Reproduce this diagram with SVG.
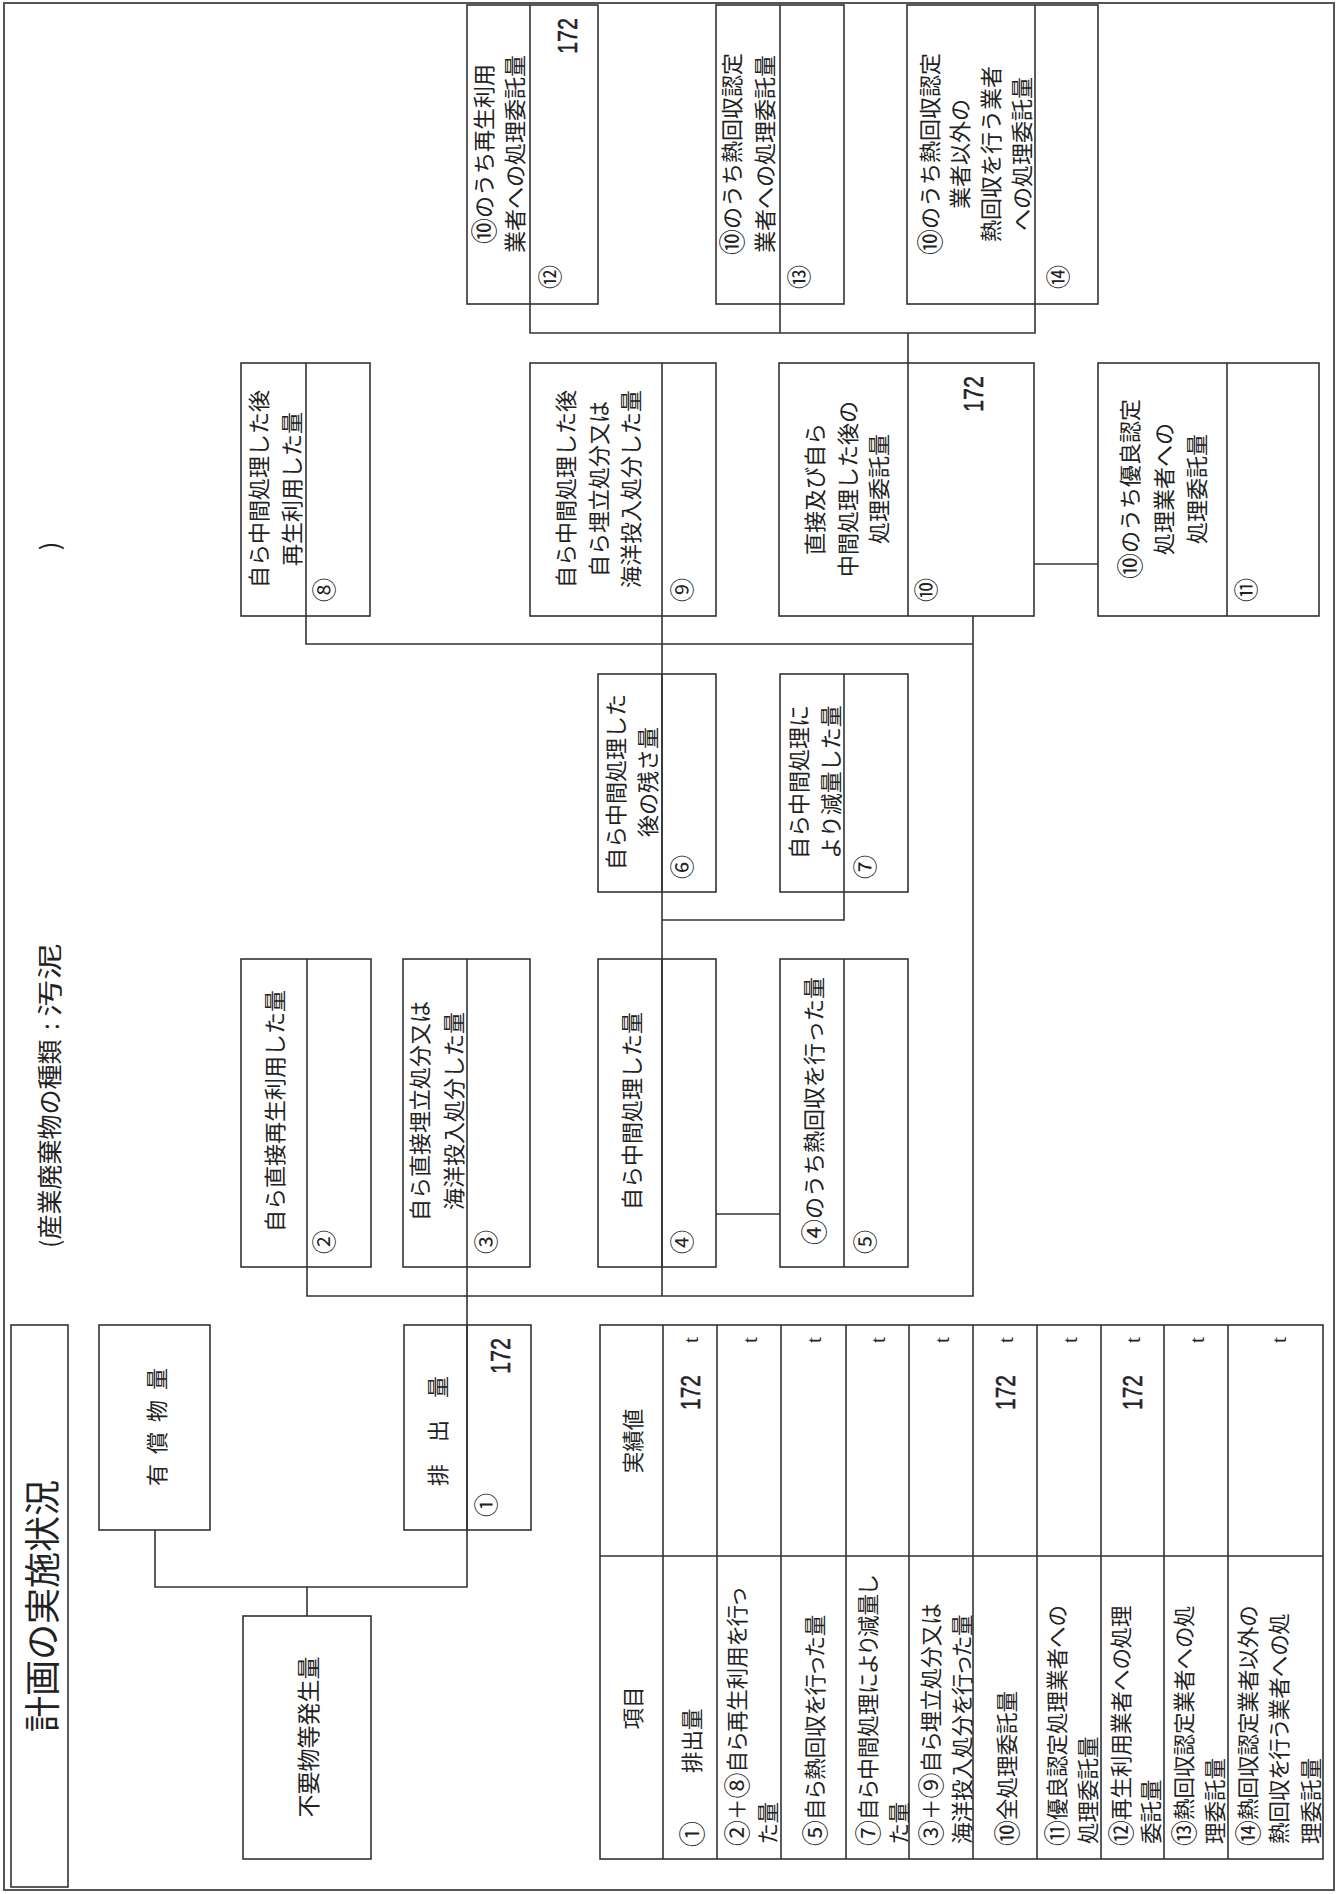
<svg xmlns="http://www.w3.org/2000/svg" width="1343" height="1894" viewBox="0 0 1343 1894">
<style>
.bx{fill:none;stroke:#333;stroke-width:1.6}
.cl{fill:none;stroke:#333;stroke-width:1.6}
.ob{fill:none;stroke:#555;stroke-width:2}
.jp{font-family:"Noto Sans CJK JP","Noto Sans CJK SC",sans-serif;fill:#222}
.lb{font-size:22px;text-anchor:middle;dominant-baseline:central}
.cn{font-size:24px;text-anchor:middle;dominant-baseline:central}
.tb{font-size:21.5px;dominant-baseline:central;font-feature-settings:"palt"}
.hd{font-size:21.5px;text-anchor:middle;dominant-baseline:central}
.c{font-size:26px}
.num{font-family:"Liberation Sans",Arial,sans-serif;font-size:28px;fill:#222;stroke:#222;stroke-width:0.5;dominant-baseline:central}
.tt{font-family:"Liberation Serif",serif;font-size:22px;fill:#222;text-anchor:middle;dominant-baseline:central}
</style>
<rect width="1343" height="1894" fill="#fff"/>
<g transform="translate(0,1894) rotate(-90)">
<rect class="ob" x="4" y="4" width="1887" height="1330"/>

<g id="title">
<rect class="bx" x="7" y="11" width="562" height="57"/>
<text class="jp" x="288" y="40" font-size="36" text-anchor="middle" dominant-baseline="central">計画の実施状況</text>
</g>
<g id="subtitle">
<text class="jp" x="646" y="48" font-size="25" dominant-baseline="central">(産業廃棄物の種類</text>
<text class="jp" x="864" y="48" font-size="25" dominant-baseline="central">:</text>
<text class="jp" x="877" y="48" font-size="25" dominant-baseline="central" textLength="74" lengthAdjust="spacingAndGlyphs">汚泥</text>
<text class="jp" x="1348" y="48" font-size="25" text-anchor="middle" dominant-baseline="central">)</text>
</g>

<g id="connectors">
<path class="cl" d="M364 155 H307 V467 H627"/>
<path class="cl" d="M278 307 H307"/>
<path class="cl" d="M627 307 H598 V973 H1278"/>
<path class="cl" d="M598 662 H1278"/>
<path class="cl" d="M680 716 V780"/>
<path class="cl" d="M974 662 V844 H1002"/>
<path class="cl" d="M1278 306 H1250 V973"/>
<path class="cl" d="M1330 1034 V1098"/>
<path class="cl" d="M1590 530 H1561 V1035 H1590"/>
<path class="cl" d="M1590 780 H1561"/>
<path class="cl" d="M1531 908 H1561"/>
</g>

<g id="n-yushobutsu">
<rect class="bx" x="364" y="99" width="205" height="111"/>
<text class="jp" x="419 451 483 515" y="155" font-size="22" text-anchor="middle" dominant-baseline="central">有償物量</text>
</g>

<g id="n1-haishutsu">
<rect class="bx" x="364" y="404" width="205" height="127"/>
<line class="bx" x1="364" y1="467" x2="569" y2="467"/>
<text class="jp" x="419 463 507" y="436" font-size="22" text-anchor="middle" dominant-baseline="central">排出量</text>
<text class="num" x="520" y="500" textLength="36" lengthAdjust="spacingAndGlyphs">172</text>
<text class="jp cn" x="389" y="484">①</text>
</g>

<g id="n-fuyobutsu">
<rect class="bx" x="35" y="243" width="243" height="128"/>
<text class="jp" x="157" y="307" font-size="23" text-anchor="middle" dominant-baseline="central">不要物等発生量</text>
</g>

<g id="n2">
<rect class="bx" x="627" y="241" width="308" height="130"/>
<line class="bx" x1="627" y1="307" x2="935" y2="307"/>
<text class="jp lb" x="783" y="273">自ら直接再生利用した量</text>
<text class="jp cn" x="652" y="322">②</text>
</g>

<g id="n3">
<rect class="bx" x="627" y="403" width="308" height="127"/>
<line class="bx" x1="627" y1="467" x2="935" y2="467"/>
<text class="jp lb" x="783" y="418">自ら直接埋立処分又は</text>
<text class="jp lb" x="783" y="452">海洋投入処分した量</text>
<text class="jp cn" x="652" y="484">③</text>
</g>

<g id="n4">
<rect class="bx" x="627" y="598" width="308" height="118"/>
<line class="bx" x1="627" y1="662" x2="935" y2="662"/>
<text class="jp lb" x="783" y="630">自ら中間処理した量</text>
<text class="jp cn" x="652" y="680">④</text>
</g>

<g id="n5">
<rect class="bx" x="627" y="780" width="308" height="128"/>
<line class="bx" x1="627" y1="844" x2="935" y2="844"/>
<text class="jp lb" x="783" y="812"><tspan class="c">④</tspan>のうち熱回収を行った量</text>
<text class="jp cn" x="652" y="863">⑤</text>
</g>

<g id="n6">
<rect class="bx" x="1002" y="598" width="218" height="118"/>
<line class="bx" x1="1002" y1="662" x2="1220" y2="662"/>
<text class="jp lb" x="1112" y="614">自ら中間処理した</text>
<text class="jp lb" x="1112" y="646">後の残さ量</text>
<text class="jp cn" x="1027" y="680">⑥</text>
</g>

<g id="n7">
<rect class="bx" x="1002" y="780" width="218" height="128"/>
<line class="bx" x1="1002" y1="844" x2="1220" y2="844"/>
<text class="jp lb" x="1112" y="797">自ら中間処理に</text>
<text class="jp lb" x="1112" y="829">より減量した量</text>
<text class="jp cn" x="1027" y="863">⑦</text>
</g>

<g id="n8">
<rect class="bx" x="1278" y="241" width="253" height="129"/>
<line class="bx" x1="1278" y1="306" x2="1531" y2="306"/>
<text class="jp lb" x="1405" y="257">自ら中間処理した後</text>
<text class="jp lb" x="1405" y="290">再生利用した量</text>
<text class="jp cn" x="1304" y="322">⑧</text>
</g>

<g id="n9">
<rect class="bx" x="1278" y="530" width="253" height="186"/>
<line class="bx" x1="1278" y1="662" x2="1531" y2="662"/>
<text class="jp lb" x="1405" y="564">自ら中間処理した後</text>
<text class="jp lb" x="1405" y="597">自ら埋立処分又は</text>
<text class="jp lb" x="1405" y="629">海洋投入処分した量</text>
<text class="jp cn" x="1304" y="680">⑨</text>
</g>

<g id="n10">
<rect class="bx" x="1278" y="779" width="253" height="255"/>
<line class="bx" x1="1278" y1="908" x2="1531" y2="908"/>
<text class="jp lb" x="1405" y="813">直接及び自ら</text>
<text class="jp lb" x="1405" y="846">中間処理した後の</text>
<text class="jp lb" x="1405" y="877">処理委託量</text>
<text class="num" x="1482" y="973" textLength="36" lengthAdjust="spacingAndGlyphs">172</text>
<text class="jp cn" x="1304" y="924">⑩</text>
</g>

<g id="n11">
<rect class="bx" x="1278" y="1098" width="253" height="221"/>
<line class="bx" x1="1278" y1="1227" x2="1531" y2="1227"/>
<text class="jp lb" x="1405" y="1128"><tspan class="c">⑩</tspan>のうち優良認定</text>
<text class="jp lb" x="1405" y="1162">処理業者への</text>
<text class="jp lb" x="1405" y="1195">処理委託量</text>
<text class="jp cn" x="1304" y="1244">⑪</text>
</g>

<g id="n12">
<rect class="bx" x="1590" y="467" width="299" height="131"/>
<line class="bx" x1="1590" y1="530" x2="1889" y2="530"/>
<text class="jp lb" x="1740" y="482"><tspan class="c">⑩</tspan>のうち再生利用</text>
<text class="jp lb" x="1740" y="513">業者への処理委託量</text>
<text class="num" x="1840" y="567" textLength="36" lengthAdjust="spacingAndGlyphs">172</text>
<text class="jp cn" x="1617" y="548">⑫</text>
</g>

<g id="n13">
<rect class="bx" x="1590" y="716" width="299" height="128"/>
<line class="bx" x1="1590" y1="780" x2="1889" y2="780"/>
<text class="jp lb" x="1740" y="730"><tspan class="c">⑩</tspan>のうち熱回収認定</text>
<text class="jp lb" x="1740" y="763">業者への処理委託量</text>
<text class="jp cn" x="1617" y="797">⑬</text>
</g>

<g id="n14">
<rect class="bx" x="1590" y="907" width="299" height="191"/>
<line class="bx" x1="1590" y1="1035" x2="1889" y2="1035"/>
<text class="jp lb" x="1740" y="928"><tspan class="c">⑩</tspan>のうち熱回収認定</text>
<text class="jp lb" x="1740" y="958">業者以外の</text>
<text class="jp lb" x="1740" y="989">熱回収を行う業者</text>
<text class="jp lb" x="1740" y="1020">への処理委託量</text>
<text class="jp cn" x="1617" y="1056">⑭</text>
</g>

<g id="table">
<rect class="bx" x="35" y="600" width="534" height="723"/>
<path class="bx" d="M338 600 V1323 M35 663 H569 M35 717 H569 M35 781 H569 M35 846 H569 M35 909 H569 M35 973 H569 M35 1037 H569 M35 1101 H569 M35 1164 H569 M35 1228 H569"/>
<text class="jp hd" x="186" y="631">項目</text>
<text class="jp hd" x="453" y="631">実績値</text>

<text class="jp tb c" x="47" y="690">①</text>
<text class="jp tb" x="121" y="690">排出量</text>
<text class="num" x="484" y="690" textLength="35" lengthAdjust="spacingAndGlyphs">172</text>
<text class="tt" x="554" y="690">t</text>

<text class="jp tb" x="48" y="735"><tspan class="c">②</tspan>＋<tspan class="c">⑧</tspan>自ら再生利用を行っ</text>
<text class="jp tb" x="50" y="766">た量</text>
<text class="tt" x="554" y="749">t</text>

<text class="jp tb" x="48" y="813"><tspan class="c">⑤</tspan>自ら熱回収を行った量</text>
<text class="tt" x="554" y="813">t</text>

<text class="jp tb" x="48" y="866"><tspan class="c">⑦</tspan>自ら中間処理により減量し</text>
<text class="jp tb" x="50" y="897">た量</text>
<text class="tt" x="554" y="877">t</text>

<text class="jp tb" x="48" y="929"><tspan class="c">③</tspan>＋<tspan class="c">⑨</tspan>自ら埋立処分又は</text>
<text class="jp tb" x="50" y="960">海洋投入処分を行った量</text>
<text class="tt" x="554" y="941">t</text>

<text class="jp tb" x="48" y="1005"><tspan class="c">⑩</tspan>全処理委託量</text>
<text class="num" x="484" y="1005" textLength="35" lengthAdjust="spacingAndGlyphs">172</text>
<text class="tt" x="554" y="1005">t</text>

<text class="jp tb" x="48" y="1055"><tspan class="c">⑪</tspan>優良認定処理業者への</text>
<text class="jp tb" x="50" y="1086">処理委託量</text>
<text class="tt" x="554" y="1069">t</text>

<text class="jp tb" x="48" y="1119"><tspan class="c">⑫</tspan>再生利用業者への処理</text>
<text class="jp tb" x="50" y="1149">委託量</text>
<text class="num" x="484" y="1132" textLength="35" lengthAdjust="spacingAndGlyphs">172</text>
<text class="tt" x="554" y="1132">t</text>

<text class="jp tb" x="48" y="1182"><tspan class="c">⑬</tspan>熱回収認定業者への処</text>
<text class="jp tb" x="50" y="1213">理委託量</text>
<text class="tt" x="554" y="1196">t</text>

<text class="jp tb" x="48" y="1246"><tspan class="c">⑭</tspan>熱回収認定業者以外の</text>
<text class="jp tb" x="50" y="1277">熱回収を行う業者への処</text>
<text class="jp tb" x="50" y="1309">理委託量</text>
<text class="tt" x="554" y="1278">t</text>
</g>
</g>
</svg>
